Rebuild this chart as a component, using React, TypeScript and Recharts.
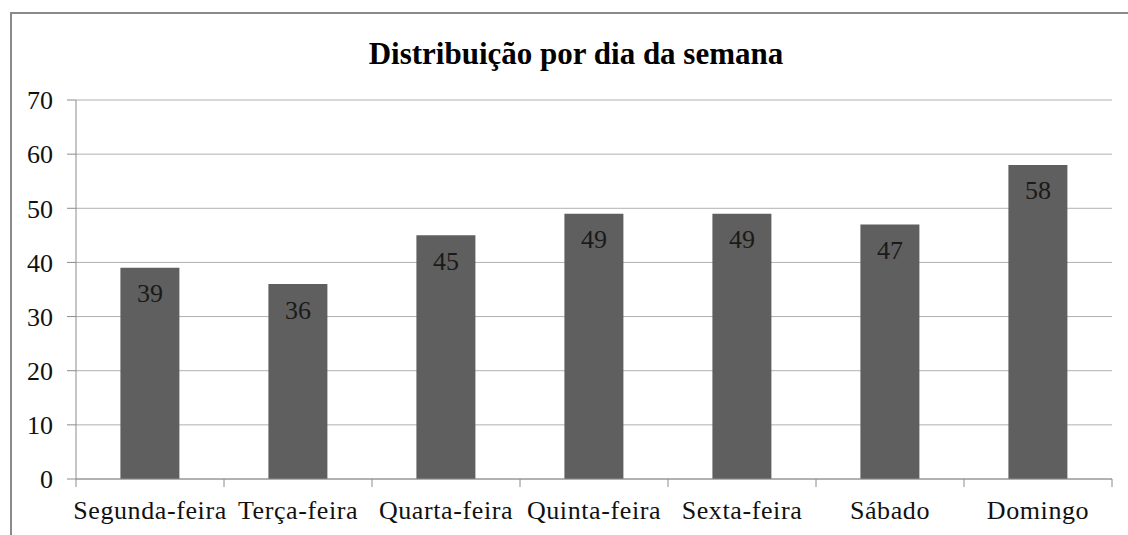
import React from "react";
import { BarChart, Bar, XAxis, YAxis, CartesianGrid, LabelList } from "recharts";

const days = [
  "Segunda-feira",
  "Terça-feira",
  "Quarta-feira",
  "Quinta-feira",
  "Sexta-feira",
  "Sábado",
  "Domingo",
];
const counts = [39, 36, 45, 49, 49, 47, 58];
const yTicks = [0, 10, 20, 30, 40, 50, 60, 70];

const data = days.map((day, i) => ({ day, count: counts[i] }));

const FONT = "'Liberation Serif', 'Times New Roman', serif";
const AXIS_COLOR = "#8c8c8c";

// category boundary ticks like the Excel original
const DayTick = ({ x, y, payload, index }: any) => {
  const half = payload.offset || 0;
  const axisY = y - 22;
  return (
    <g>
      <line x1={x - half} x2={x - half} y1={axisY} y2={axisY + 8} stroke={AXIS_COLOR} />
      {index === days.length - 1 && (
        <line x1={x + half} x2={x + half} y1={axisY} y2={axisY + 8} stroke={AXIS_COLOR} />
      )}
      <text
        x={x}
        y={y}
        dy="0.71em"
        textAnchor="middle"
        fill="#111"
        fontSize={26}
        fontFamily={FONT}
        letterSpacing={0.6}
      >
        {payload.value}
      </text>
    </g>
  );
};

export default function App() {
  return (
    <div
      style={{
        position: "absolute",
        left: 0,
        top: 0,
        width: 1128,
        height: 535,
        background: "#fff",
        overflow: "hidden",
        fontFamily: FONT,
      }}
    >
      <div
        style={{
          position: "absolute",
          left: 10,
          top: 12,
          width: 1200,
          height: 600,
          border: "2px solid #8a8a8a",
        }}
      />
      <div
        style={{
          position: "absolute",
          top: 36,
          left: 0,
          width: 1152,
          textAlign: "center",
          fontSize: 31,
          fontWeight: "bold",
          color: "#000",
        }}
      >
        Distribuição por dia da semana
      </div>
      <div style={{ position: "absolute", left: 0, top: 0 }}>
        <BarChart
          width={1128}
          height={535}
          data={data}
          margin={{ top: 100, right: 16, bottom: 0, left: 0 }}
          barCategoryGap="30%"
        >
          <CartesianGrid vertical={false} stroke="#b0b0b0" />
          <XAxis
            dataKey="day"
            height={56}
            stroke={AXIS_COLOR}
            tickLine={false}
            tickSize={8}
            tickMargin={14}
            interval={0}
            tick={<DayTick />}
          />
          <YAxis
            width={76}
            domain={[0, 70]}
            ticks={yTicks}
            stroke={AXIS_COLOR}
            tickSize={9}
            tickMargin={14}
            tick={{ fill: "#111", fontSize: 26, fontFamily: FONT }}
          />
          <Bar dataKey="count" fill="#5f5f5f" isAnimationActive={false}>
            <LabelList
              dataKey="count"
              position="insideTop"
              offset={16}
              fill="#1a1a1a"
              fontSize={26}
              fontFamily={FONT}
            />
          </Bar>
        </BarChart>
      </div>
    </div>
  );
}
